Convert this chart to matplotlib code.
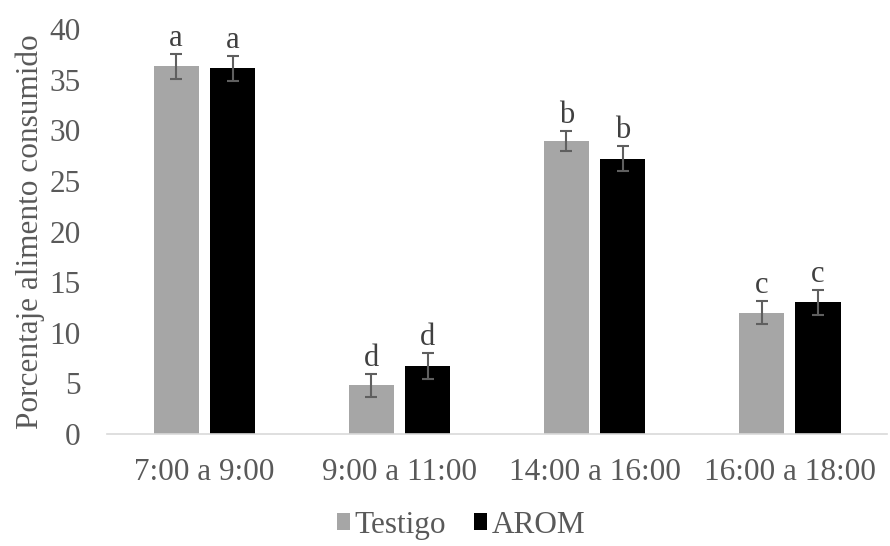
import numpy as np
import matplotlib.pyplot as plt

plt.rcParams['font.family'] = ['Liberation Serif', 'DejaVu Serif']

horarios = ['7:00 a 9:00', '9:00 a 11:00', '14:00 a 16:00', '16:00 a 18:00']
testigo = [36.3, 4.8, 28.9, 12.0]
testigo_err = [1.2, 1.1, 1.0, 1.1]
arom = [36.1, 6.7, 27.2, 13.0]
arom_err = [1.2, 1.3, 1.2, 1.2]
letras_testigo = ['a', 'd', 'b', 'c']
letras_arom = ['a', 'd', 'b', 'c']

gris_texto = '#595959'
x = np.arange(len(horarios))
w = 0.232
sep = 0.057

fig = plt.figure(figsize=(8.9, 5.46), dpi=100)
ax = fig.add_axes([0.120, 0.205, 0.877, 0.742])

off = (w + sep) / 2
ekw = dict(ecolor='#5f5f5f', elinewidth=1.5, capsize=4.5, capthick=1.5)
b1 = ax.bar(x - off, testigo, w, color='#A6A6A6', label='Testigo',
            yerr=testigo_err, error_kw=ekw)
b2 = ax.bar(x + off, arom, w, color='black', label='AROM',
            yerr=arom_err, error_kw=ekw)

for i in range(len(horarios)):
    ax.text(x[i] - off, testigo[i] + testigo_err[i] + 0.1, letras_testigo[i],
            ha='center', va='bottom', fontsize=22, color='#404040')
    ax.text(x[i] + off, arom[i] + arom_err[i] + 0.1, letras_arom[i],
            ha='center', va='bottom', fontsize=22, color='#404040')

ax.set_ylim(0, 40)
ax.set_yticks(range(0, 41, 5))
ax.set_xlim(-0.5, len(horarios) - 0.5)
ax.set_xticks(x)
ax.set_xticklabels(horarios)
ax.tick_params(length=0, labelsize=22.5, colors=gris_texto)
ax.tick_params(axis='x', pad=17)
ax.tick_params(axis='y', pad=19)
ax.set_ylabel('Porcentaje alimento consumido', fontsize=22.5, color=gris_texto, labelpad=3)

for s in ['top', 'right', 'left']:
    ax.spines[s].set_visible(False)
ax.spines['bottom'].set_color('#D9D9D9')
ax.spines['bottom'].set_linewidth(1.2)

fig.legend(handles=[b1, b2], labels=['Testigo', 'AROM'], loc='lower center',
           bbox_to_anchor=(0.518, -0.04), ncol=2, frameon=False, fontsize=22.5,
           handlelength=0.42, handleheight=0.42, handletextpad=0.15, columnspacing=0.9,
           labelcolor=gris_texto)

fig.savefig('out.png', dpi=100)
